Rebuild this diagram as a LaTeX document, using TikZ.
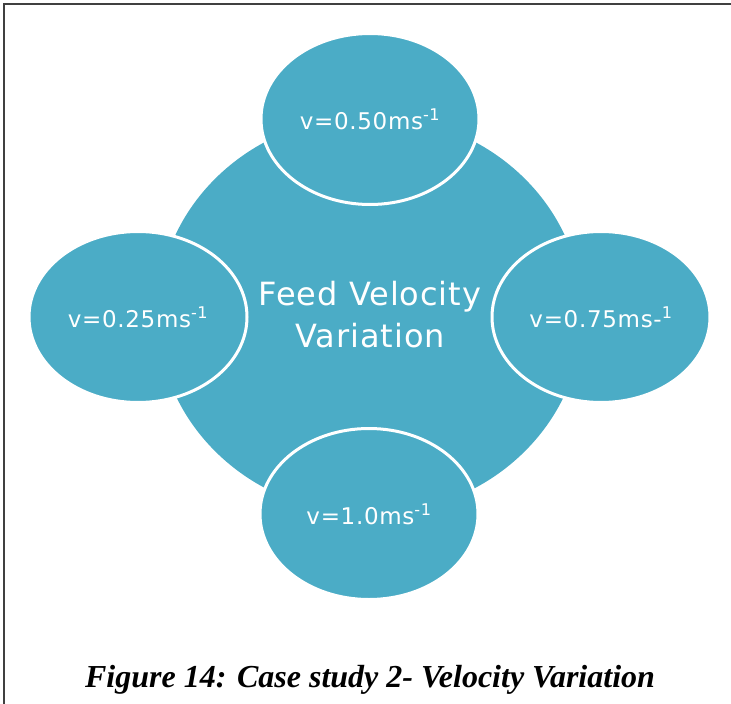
\documentclass[tikz,border=0pt]{standalone}
\usepackage{fontspec}
\setmainfont{Liberation Serif}
\newfontfamily\bubblefont[LetterSpace=3]{DejaVu Sans}
\usepackage{tikz}
\usetikzlibrary{shapes.geometric}
\definecolor{bubble}{HTML}{4BACC6}

\begin{document}
\begin{tikzpicture}[
		x=1pt, y=-1pt
		,hub/.style={ellipse, fill=bubble, text=white, minimum width=425pt, minimum height=398pt, align=center, font=\bubblefont\fontsize{32}{42}\selectfont}
		,spoke/.style={ellipse, fill=bubble, draw=white, line width=3pt, text=white, minimum width=218pt, minimum height=171pt, font=\bubblefont\fontsize{23}{26}\selectfont}
	]
		\useasboundingbox (0,0) rectangle (731,704);
		% frame
		\draw [line width=2pt, black!75] (4,704) -- (4,4) -- (731,4);
		\node [hub] (H) at (370,315) {Feed Velocity\\Variation};
		\node [spoke] (T) at (370,119) {v=0.50ms\textsuperscript{-1}};
		\node [spoke] (L) at (138,317) {v=0.25ms\textsuperscript{-1}};
		\node [spoke] (R) at (601,317) {v=0.75ms-\textsuperscript{1}};
		\node [spoke] (B) at (369,514) {v=1.0ms\textsuperscript{-1}};
		% caption
		\node (cap) at (370,680) {\fontsize{32}{36}\selectfont\bfseries\itshape Figure 14: Case study 2- Velocity Variation};
	\end{tikzpicture}
\end{document}
